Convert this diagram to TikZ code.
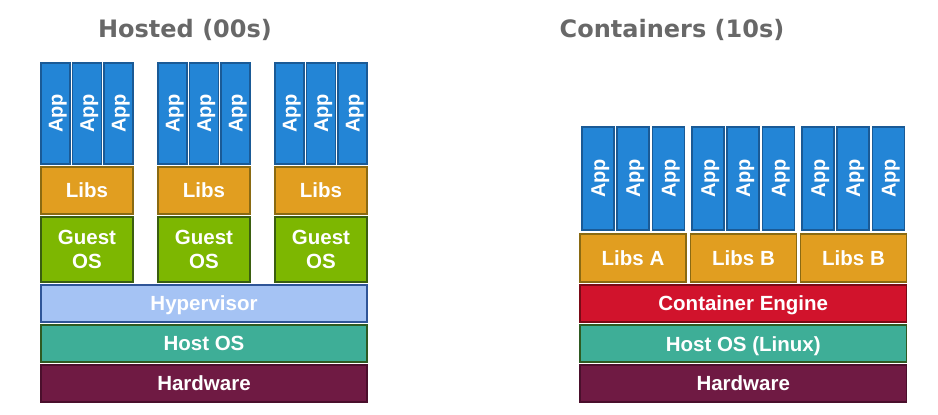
\documentclass[tikz,border=0pt]{standalone}
\usepackage{fontspec}
\setsansfont{Liberation Sans}
\newfontfamily\titlefont{DejaVu Sans}
\definecolor{appfill}{HTML}{2385D6}
\definecolor{appline}{HTML}{1A5A96}
\definecolor{libfill}{HTML}{E19E20}
\definecolor{libline}{HTML}{8A6A12}
\definecolor{gosfill}{HTML}{7DB701}
\definecolor{gosline}{HTML}{3A5E10}
\definecolor{hypfill}{HTML}{A5C3F4}
\definecolor{hypline}{HTML}{2F5597}
\definecolor{hosfill}{HTML}{3EAE97}
\definecolor{hosline}{HTML}{2E5A22}
\definecolor{hwfill}{HTML}{6F1A43}
\definecolor{hwline}{HTML}{4A0F2C}
\definecolor{cefill}{HTML}{D1132C}
\definecolor{celine}{HTML}{7A0A16}
\definecolor{titlegray}{HTML}{686868}
\tikzset{
  layer/.style={draw, line width=1.6pt, text=white, inner sep=0pt,
    font=\sffamily\bfseries\fontsize{20.5}{24}\selectfont},
  oneline/.style={layer, text height=14.7pt, text depth=0pt},
  applabel/.style={text=white, rotate=90, inner sep=0pt, text height=14.4pt, text depth=0pt,
    font=\sffamily\bfseries\fontsize{20}{20}\selectfont},
  libbox/.style={oneline, fill=libfill, draw=libline},
  gosbox/.style={layer, align=center, fill=gosfill, draw=gosline},
  hypbox/.style={oneline, fill=hypfill, draw=hypline},
  hosbox/.style={oneline, fill=hosfill, draw=hosline},
  hwbox/.style={oneline, fill=hwfill, draw=hwline},
  cebox/.style={oneline, fill=cefill, draw=celine},
  titlestyle/.style={text=titlegray, font=\titlefont\bfseries\fontsize{24}{24}\selectfont}
}
\begin{document}
\begin{tikzpicture}[x=1pt,y=-1pt]
\useasboundingbox (0,0) rectangle (938,415);
% titles
\node[titlestyle] (t1) at (185,30) {Hosted (00s)};
\node[titlestyle] (t2) at (672,30) {Containers (10s)};
% left: hosted
\foreach \g/\gx in {1/41,2/158,3/275}{
  \foreach \a/\off in {1/0,2/31.5,3/63}{
    \node[layer, fill=appfill, draw=appline, minimum width=29pt, minimum height=101pt]
      (h\g a\a) at (\gx+\off+14.5,113.5) {};
    \node[applabel] (h\g a\a t) at (h\g a\a.center) {App};
  }
  \node[libbox, minimum width=92pt, minimum height=47pt] (h\g lib) at (\gx+46,190.5) {Libs};
  \node[gosbox, minimum width=92pt, minimum height=65pt] (h\g gos) at (\gx+46,249.5) {Guest\\OS};
}
\node[hypbox, minimum width=326pt, minimum height=37pt] (hyp) at (204,303.5) {Hypervisor};
\node[hosbox, minimum width=326pt, minimum height=37pt] (hos) at (204,343.5) {Host OS};
\node[hwbox, minimum width=326pt, minimum height=37pt] (hhw) at (204,383.5) {Hardware};
% right: containers
\foreach \g/\gx in {1/582,2/692,3/802}{
  \foreach \a/\off in {1/0,2/35,3/70.5}{
    \node[layer, fill=appfill, draw=appline, minimum width=32pt, minimum height=103pt]
      (c\g a\a) at (\gx+\off+16,178.5) {};
    \node[applabel] (c\g a\a t) at (c\g a\a.center) {App};
  }
}
\node[libbox, minimum width=106pt, minimum height=48pt] (clA) at (633,258) {Libs A};
\node[libbox, minimum width=106pt, minimum height=48pt] (clB) at (743.5,258) {Libs B};
\node[libbox, minimum width=106pt, minimum height=48pt] (clC) at (853.5,258) {Libs B};
\node[cebox, minimum width=326.5pt, minimum height=37pt] (ce) at (743.25,303.5) {Container Engine};
\node[hosbox, minimum width=326.5pt, minimum height=37pt] (chos) at (743.25,343.75) {Host OS (Linux)};
\node[hwbox, minimum width=326.5pt, minimum height=37pt] (chw) at (743.25,383.5) {Hardware};
\end{tikzpicture}
\end{document}
